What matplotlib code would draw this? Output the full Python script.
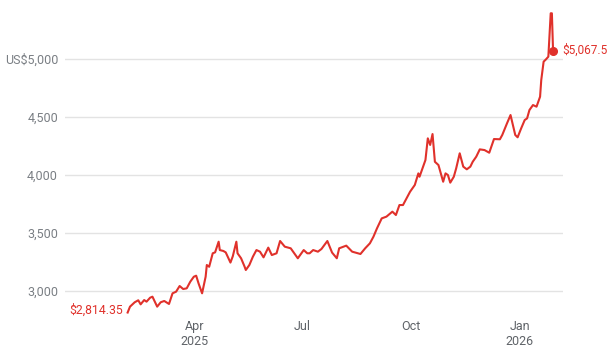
import pandas as pd
import numpy as np
import matplotlib.pyplot as plt
import matplotlib.dates as mdates
from matplotlib.ticker import FixedLocator, FuncFormatter

plt.rcParams['font.family'] = ['Roboto', 'DejaVu Sans']

# gold price (USD)
dates = ['2025-02-03', '2025-02-05', '2025-02-09', '2025-02-12', '2025-02-14', '2025-02-17',
         '2025-02-19', '2025-02-22', '2025-02-24', '2025-02-28', '2025-03-03', '2025-03-06',
         '2025-03-10', '2025-03-13', '2025-03-16', '2025-03-19', '2025-03-22', '2025-03-25',
         '2025-03-28', '2025-03-31', '2025-04-02', '2025-04-04', '2025-04-07', '2025-04-10',
         '2025-04-11', '2025-04-13', '2025-04-16', '2025-04-18', '2025-04-21', '2025-04-22',
         '2025-04-25', '2025-04-27', '2025-05-01', '2025-05-03', '2025-05-06', '2025-05-07',
         '2025-05-10', '2025-05-13', '2025-05-14', '2025-05-17', '2025-05-20', '2025-05-23',
         '2025-05-26', '2025-05-29', '2025-06-02', '2025-06-05', '2025-06-09', '2025-06-12',
         '2025-06-16', '2025-06-21', '2025-06-27', '2025-07-02', '2025-07-05', '2025-07-07',
         '2025-07-10', '2025-07-14', '2025-07-17', '2025-07-22', '2025-07-26', '2025-07-30',
         '2025-08-01', '2025-08-07', '2025-08-12', '2025-08-19', '2025-08-23', '2025-08-27',
         '2025-08-30', '2025-09-02', '2025-09-06', '2025-09-10', '2025-09-15', '2025-09-18',
         '2025-09-21', '2025-09-24', '2025-09-30', '2025-10-04', '2025-10-07', '2025-10-08',
         '2025-10-13', '2025-10-15', '2025-10-17', '2025-10-19', '2025-10-21', '2025-10-24',
         '2025-10-28', '2025-10-30', '2025-11-01', '2025-11-03', '2025-11-06', '2025-11-08',
         '2025-11-11', '2025-11-14', '2025-11-17', '2025-11-20', '2025-11-22', '2025-11-25',
         '2025-11-28', '2025-12-02', '2025-12-06', '2025-12-10', '2025-12-15', '2025-12-17',
         '2025-12-21', '2025-12-24', '2025-12-26', '2025-12-28', '2025-12-30', '2026-01-02',
         '2026-01-05', '2026-01-07', '2026-01-09', '2026-01-12', '2026-01-15', '2026-01-18',
         '2026-01-19', '2026-01-21', '2026-01-23', '2026-01-25', '2026-01-27', '2026-01-28',
         '2026-01-29']
prices = [2814.35, 2865, 2903, 2920, 2885, 2922,
          2908, 2942, 2951, 2865, 2903, 2914,
          2888, 2980, 2994, 3043, 3017, 3023,
          3080, 3123, 3132, 3066, 2980, 3123,
          3224, 3209, 3325, 3333, 3425, 3353,
          3345, 3333, 3245, 3300, 3425, 3325,
          3282, 3209, 3181, 3224, 3296, 3353,
          3339, 3290, 3374, 3310, 3325, 3431,
          3382, 3368, 3282, 3353, 3325, 3325,
          3353, 3339, 3362, 3431, 3331, 3282,
          3368, 3391, 3339, 3319, 3368, 3411,
          3468, 3540, 3626, 3641, 3684, 3655,
          3741, 3741, 3856, 3914, 4014, 3985,
          4129, 4316, 4259, 4353, 4114, 4086,
          3942, 4014, 4000, 3934, 3985, 4057,
          4187, 4072, 4049, 4072, 4114, 4158,
          4221, 4215, 4192, 4310, 4308, 4345,
          4445, 4517, 4431, 4345, 4325, 4402,
          4474, 4488, 4560, 4603, 4589, 4675,
          4819, 4977, 4997, 5020, 5394, 5394,
          5067.5]

y_ticks = [3000, 3500, 4000, 4500, 5000]
x_ticks = ['2025-04-01', '2025-07-01', '2025-10-01', '2026-01-01']
x_labels = ['Apr\n2025', 'Jul', 'Oct', 'Jan\n2026']

df = pd.DataFrame({'date': pd.to_datetime(dates), 'price': prices})

red = '#e0312b'
grey = '#7a7f84'

fig = plt.figure(figsize=(6.09, 3.54), dpi=100)
ax = fig.add_axes([65 / 609, 40 / 354, (563 - 65) / 609, 304 / 354])

ax.plot(df.date, df.price, color=red, lw=1.5, solid_joinstyle='round', zorder=3)
ax.plot(df.date.iloc[-1], df.price.iloc[-1], 'o', color=red, ms=5.5, zorder=4)

# end labels
ax.annotate('$%s' % format(prices[0], ',.2f'), (df.date.iloc[0], df.price.iloc[0]),
            xytext=(-3, 2), textcoords='offset points', ha='right', va='center',
            color=red, fontsize=8.8)
ax.annotate('$5,067.5', (df.date.iloc[-1], df.price.iloc[-1]),
            xytext=(7, 1), textcoords='offset points', ha='left', va='center',
            color=red, fontsize=8.5)

# axes
ax.set_ylim(2801.7, 5422.4)
ax.set_xlim(pd.Timestamp('2025-04-01') - pd.Timedelta(days=110),
            pd.Timestamp('2025-04-01') + pd.Timedelta(days=311.4))
ax.yaxis.set_major_locator(FixedLocator(y_ticks))
ax.yaxis.set_major_formatter(FuncFormatter(
    lambda v, p: ('US$' if v == 5000 else '') + format(int(v), ',')))
ax.set_xticks(mdates.date2num(pd.to_datetime(x_ticks)))
ax.set_xticklabels(x_labels)
ax.grid(axis='y', color='#e3e3e3', lw=1)
ax.set_axisbelow(True)
for s in ax.spines.values():
    s.set_visible(False)
ax.tick_params(axis='both', length=0, colors=grey, labelsize=9)
ax.tick_params(axis='y', pad=5)
ax.tick_params(axis='x', pad=4, colors='#5f6368')
for t in ax.get_xticklabels():
    t.set_linespacing(1.25)

plt.savefig('out.png', dpi=100)
plt.close()
